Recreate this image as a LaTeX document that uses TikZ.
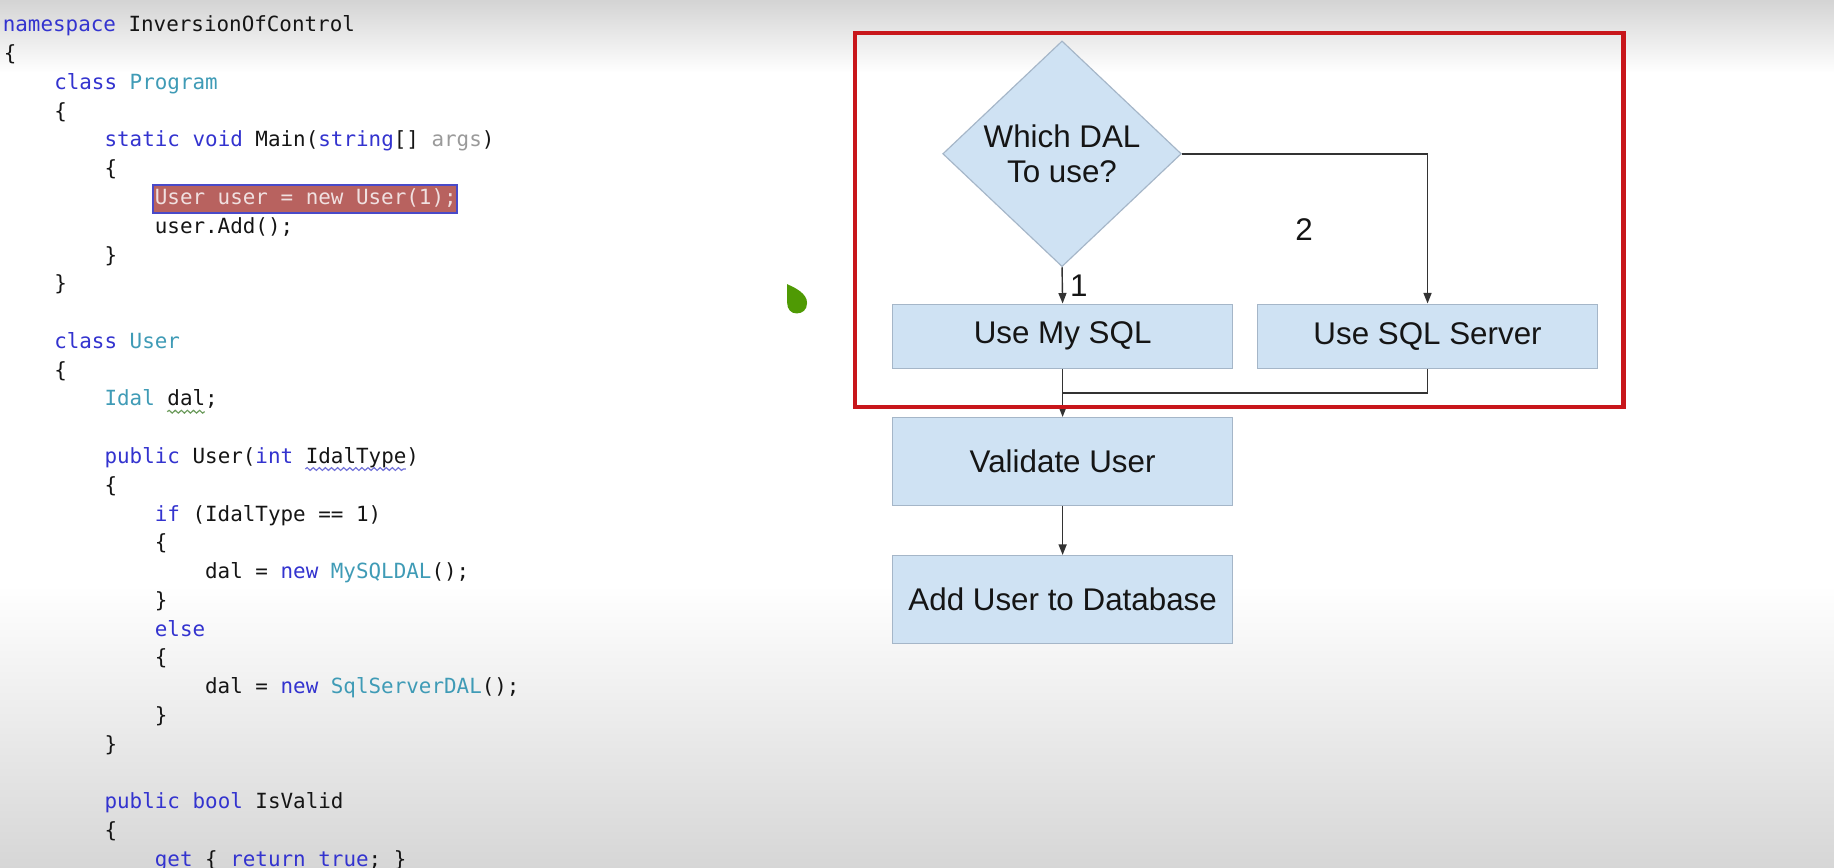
\documentclass[tikz,border=0pt]{standalone}
\usepackage{fontspec}
\setmainfont{Liberation Sans}
\newfontfamily\codefont{DejaVu Sans Mono}
\usetikzlibrary{shapes.geometric,arrows.meta,decorations.pathmorphing}
\definecolor{kw}{HTML}{3333CF}
\definecolor{ty}{HTML}{3F9BB6}
\definecolor{tx}{HTML}{151515}
\definecolor{gry}{HTML}{9A9A9A}
\definecolor{hlfill}{HTML}{B8625F}
\definecolor{hlline}{HTML}{4A4AC8}
\definecolor{hltext}{HTML}{F0E0E0}
\definecolor{boxfill}{HTML}{CFE2F3}
\definecolor{boxline}{HTML}{A5B6C8}
\definecolor{frame}{HTML}{C8161B}
\definecolor{blob}{HTML}{4F9A04}
\definecolor{wavegreen}{HTML}{6A9A5A}
\definecolor{waveblue}{HTML}{7070D8}
\newcommand\kwd[1]{\textcolor{kw}{#1}}
\newcommand\typ[1]{\textcolor{ty}{#1}}
\newcommand\gryt[1]{\textcolor{gry}{#1}}
\tikzset{
  code/.style={anchor=mid west, inner sep=0pt, font=\codefont\fontsize{8.93}{10}\selectfont, text=tx},
  box/.style={draw=boxline, fill=boxfill, line width=0.5pt, minimum width=145.5pt, text=tx,
    font=\fontsize{13.4}{14.6}\selectfont, inner sep=0pt, align=center},
  conn/.style={draw=black!80, line width=0.6pt},
  arr/.style={conn, -{Triangle[length=4.5pt,width=3.4pt]}},
  lbl/.style={text=tx, font=\fontsize{13.4}{14.6}\selectfont, inner sep=0pt},
  wave/.style={decorate, decoration={snake, amplitude=0.6pt, segment length=2.6pt}, line width=0.5pt}
}
\begin{document}
\begin{tikzpicture}[x=0.5pt,y=-0.5pt]
\useasboundingbox (0,0) rectangle (1568,742);
% background
\fill[white] (0,0) rectangle (1568,742);
\shade[top color=black!17, bottom color=white] (0,0) rectangle (1568,62);
\shade[top color=white, bottom color=black!16] (0,500) rectangle (1568,742);

% highlight
\draw[fill=hlfill, draw=hlline, line width=0.8pt] (131,158) rectangle (391,182);

% code
\begin{scope}[yshift=-1pt]
\node[code] (c0) at (2,20) {\kwd{namespace} InversionOfControl};
\node[code] (c1) at (3,44.6) {\{};
\node[code] (c2) at (46,69.2) {\kwd{class} \typ{Program}};
\node[code] (c3) at (46,93.8) {\{};
\node[code] (c4) at (89,118.4) {\kwd{static} \kwd{void} Main(\kwd{string}[] \gryt{args})};
\node[code] (c5) at (89,143) {\{};
\node[code, text=hltext] (c6) at (132,167.6) {User user = new User(1);};
\node[code] (c7) at (132,192.2) {user.Add();};
\node[code] (c8) at (89,216.8) {\}};
\node[code] (c9) at (46,241.4) {\}};
\node[code] (c11) at (46,290.6) {\kwd{class} \typ{User}};
\node[code] (c12) at (46,315.2) {\{};
\node[code] (c13) at (89,339.8) {\typ{Idal} dal;};
\node[code] (c15) at (89,389) {\kwd{public} User(\kwd{int} IdalType)};
\node[code] (c16) at (89,413.6) {\{};
\node[code] (c17) at (132,438.2) {\kwd{if} (IdalType == 1)};
\node[code] (c18) at (132,462.8) {\{};
\node[code] (c19) at (175,487.4) {dal = \kwd{new} \typ{MySQLDAL}();};
\node[code] (c20) at (132,512) {\}};
\node[code] (c21) at (132,536.6) {\kwd{else}};
\node[code] (c22) at (132,561.2) {\{};
\node[code] (c23) at (175,585.8) {dal = \kwd{new} \typ{SqlServerDAL}();};
\node[code] (c24) at (132,610.4) {\}};
\node[code] (c25) at (89,635) {\}};
\node[code] (c27) at (89,684.2) {\kwd{public} \kwd{bool} IsValid};
\node[code] (c28) at (89,708.8) {\{};
\node[code] (c29) at (132,733.4) {\kwd{get} \{ \kwd{return} \kwd{true}; \}};

% squiggles
\draw[wave, wavegreen] (143,350) -- (175,350);
\draw[wave, waveblue] (261,399) -- (347,399);
\end{scope}

% cursor blob
\fill[blob] (673,243) .. controls (680,246) and (690,251) .. (690,259)
  .. controls (690,265) and (686,268) .. (681,268)
  .. controls (676,268) and (673,264) .. (673,259) -- cycle;

% flowchart
\node[diamond, draw=boxline, fill=boxfill, line width=0.5pt, inner sep=0pt, aspect=1.057,
  minimum width=102pt, minimum height=96.5pt, text=tx, align=center,
  font=\fontsize{13.4}{14.6}\selectfont] (dec) at (908,131.5) {Which DAL\\To use?};
\node[box, minimum height=27.5pt] (mysql) at (908.5,287.5) {Use My SQL};
\node[box, minimum height=27.5pt] (sqlsrv) at (1220.5,287.5) {Use SQL Server};
\node[box, minimum height=37.5pt] (validate) at (908.5,394.5) {Validate User};
\node[box, minimum height=37.5pt] (adduser) at (908.5,512.5) {Add User to Database};
\coordinate (join) at (908.5,336);

\draw[arr] (dec.south) -- (mysql.north) node[lbl, midway, right, xshift=3pt] {1};
\draw[arr] (dec.east) -| (sqlsrv.north);
\node[lbl] (two) at (1115,196) {2};
\draw[conn] (sqlsrv.south) |- (join);
\draw[arr] (mysql.south) -- (validate.north);
\draw[arr] (validate.south) -- (adduser.north);

% red frame
\draw[frame, line width=1.75pt] (731,28) rectangle (1388,348);
\end{tikzpicture}
\end{document}
